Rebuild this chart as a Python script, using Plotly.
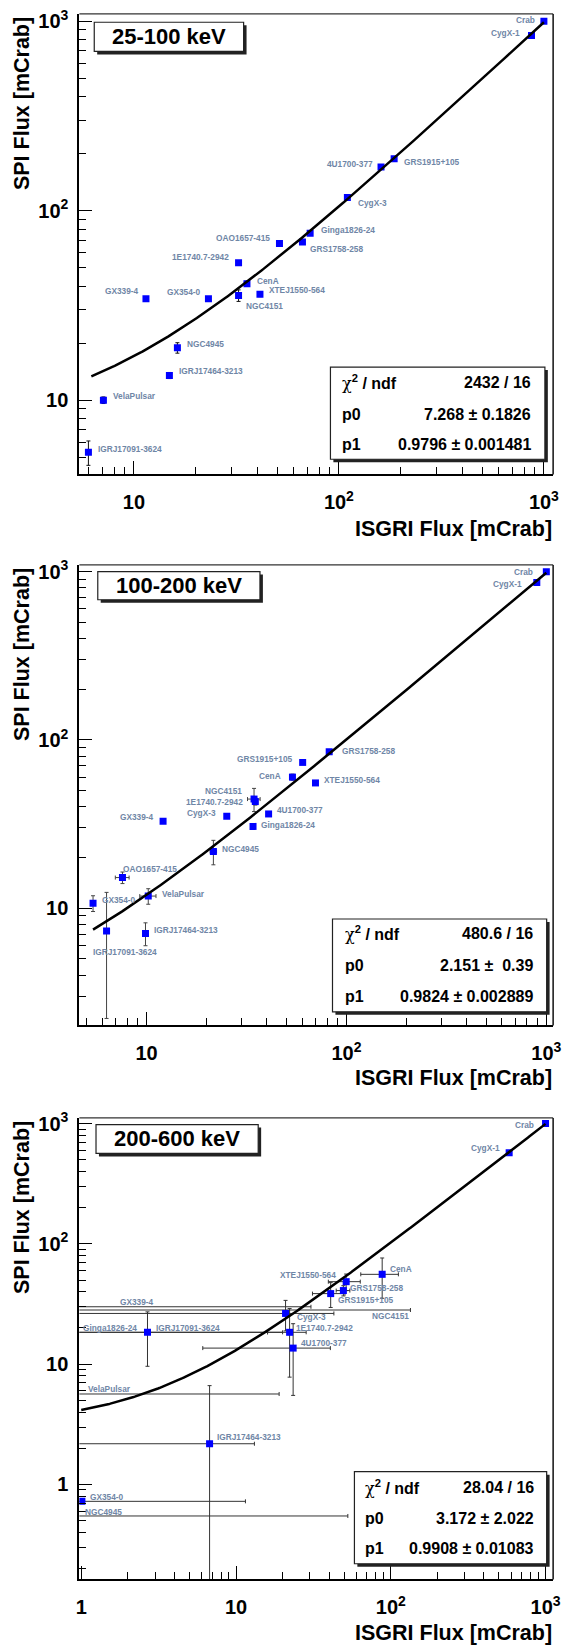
import numpy as np
import plotly.graph_objects as go

W, H = 567, 1648

# ---------------- data: 25-100 keV ----------------
band1 = "25-100 keV"
src1 = ["Crab", "CygX-1", "GRS1915+105", "4U1700-377", "CygX-3", "Ginga1826-24",
        "GRS1758-258", "OAO1657-415", "1E1740.7-2942", "CenA", "GX339-4", "GX354-0",
        "NGC4151", "XTEJ1550-564", "NGC4945", "IGRJ17464-3213", "VelaPulsar", "IGRJ17091-3624"]
isgri1 = [1000, 870, 186, 160.5, 110, 72.4, 66.4, 51.3, 32.4, 35.6, 11.45, 23.1,
          32.4, 41.2, 16.3, 14.9, 7.1, 6.0]
isgri1_err = [2, 3, 1, 1, 0.8, 0.6, 0.6, 0.5, 0.5, 0.5, 0.2, 0.3,
              0.5, 0.5, 0.3, 0.2, 0.1, 0.1]
spi1 = [1000, 841, 188, 170, 117.5, 76, 68.4, 67.2, 53.1, 41.2, 34.3, 34.3,
        35.7, 36.2, 18.9, 13.5, 10.0, 5.31]
spi1_err = [3, 3, 1.5, 1.5, 1.2, 1, 1, 1, 1, 1.2, 0.8, 0.8,
            2.5, 1, 1.2, 0.5, 0.4, 0.78]
chi2_1, ndf_1 = "2432", 16
p0_1, p0err_1 = "7.268", "0.1826"
p1_1, p1err_1 = "0.9796", "0.001481"
fit_range_1 = [6.2, 1000]

# ---------------- data: 100-200 keV ----------------
band2 = "100-200 keV"
src2 = ["Crab", "CygX-1", "GRS1758-258", "GRS1915+105", "CenA", "XTEJ1550-564",
        "NGC4151", "1E1740.7-2942", "4U1700-377", "CygX-3", "GX339-4", "Ginga1826-24",
        "NGC4945", "OAO1657-415", "VelaPulsar", "GX354-0", "IGRJ17464-3213", "IGRJ17091-3624"]
isgri2 = [1000, 896, 82, 60.4, 53.7, 70, 34.5, 35.0, 40.8, 25.2, 12.1, 34.1,
          21.6, 7.58, 10.2, 5.40, 9.88, 6.31]
isgri2_err = [2, 3, 0.8, 0.6, 0.6, 0.6, 2.5, 1.0, 0.5, 0.4, 0.2, 0.4,
              0.8, 0.6, 0.95, 0.1, 0.2, 0.1]
spi2 = [1000, 861, 85, 73.5, 60.1, 55.5, 44.5, 43.0, 36.3, 35.2, 32.9, 30.6,
        21.7, 15.2, 11.8, 10.7, 7.08, 7.31]
spi2_err = [3, 3, 1.5, 1.5, 2.5, 1.2, 7, 2, 1, 1, 0.8, 0.8,
            3.6, 1.2, 1.25, 1.15, 1.1, 5.1]
chi2_2, ndf_2 = "480.6", 16
p0_2, p0err_2 = "2.151", " 0.39"
p1_2, p1err_2 = "0.9824", "0.002889"
fit_range_2 = [5.4, 1000]

# ---------------- data: 200-600 keV ----------------
band3 = "200-600 keV"
src3 = ["Crab", "CygX-1", "CenA", "XTEJ1550-564", "GRS1758-258", "GRS1915+105",
        "NGC4151", "GX339-4", "CygX-3", "Ginga1826-24", "IGRJ17091-3624", "1E1740.7-2942",
        "4U1700-377", "VelaPulsar", "IGRJ17464-3213", "GX354-0", "NGC4945"]
# sources below 1 mCrab in ISGRI fall left of the axis (marker not visible)
isgri3 = [1000, 582, 88, 51.5, 49.4, 40.9, 0.5, 0.5, 20.9, 0.5, 2.68, 22.2,
          23.4, 0.5, 6.75, 1.01, 0.5]
isgri3_err = [3, 4, 24, 12, 5, 9.7, 133.5, 30, 22, 19.5, 13.3, 6.2,
              17.3, 18.5, 6.4, 10.5, 52.3]
spi3 = [1000, 573, 55.8, 48.5, 40.9, 38.6, 28.2, 30.0, 26.4, 18.4, 18.4, 18.4,
        13.6, 5.65, 2.18, 0.724, 0.547]
spi3_err = [3, 4, 20.5, 7.6, 4, 9, 0, 0, 7.5, 0, 8.8, 10.6,
            8.1, 0, 4.45, 0, 0]
chi2_3, ndf_3 = "28.04", 16
p0_3, p0err_3 = "3.172", "2.022"
p1_3, p1err_3 = "0.9908", "0.01083"
fit_range_3 = [1.0, 1000]

# ---------------- layout (pixels) ----------------
LBL_COLOR = "#6f86a6"
FONT = "Liberation Sans, Arial, Helvetica, sans-serif"

# label offsets: (dx, dy, anchor) relative to point, or ("edge", xfrac, dy)
lab1 = {
    "Crab": (-6.5, 0.7, "right"), "CygX-1": (-10, 2.3, "right"),
    "GRS1915+105": (8.3, -3, "left"), "4U1700-377": (-6, 3.3, "right"),
    "CygX-3": (8.3, -5.7, "left"), "Ginga1826-24": (9, 3.3, "left"),
    "GRS1758-258": (6, -6.7, "left"), "OAO1657-415": (-7.6, 5.7, "right"),
    "1E1740.7-2942": (-7.6, 5.7, "right"), "CenA": (7.6, 2.7, "left"),
    "GX339-4": (-5, 8, "right"), "GX354-0": (-5.4, 6.3, "right"),
    "XTEJ1550-564": (7.2, 4, "left"), "NGC4151": (5.4, -10.3, "left"),
    "NGC4945": (7.2, 3.3, "left"), "IGRJ17464-3213": (7.6, 4.3, "left"),
    "VelaPulsar": (7.6, 4.3, "left"), "IGRJ17091-3624": (7.2, 3.3, "left"),
}
lab2 = {
    "Crab": (-11, 0, "right"), "CygX-1": (-12.7, -1.3, "right"),
    "GRS1758-258": (10.5, 1, "left"), "GRS1915+105": (-8, 3.7, "right"),
    "CenA": (-9.8, 1.3, "right"), "XTEJ1550-564": (6.1, 3, "left"),
    "NGC4151": (-10, 7.7, "right"), "1E1740.7-2942": (-10, 0, "right"),
    "4U1700-377": (6.5, 4.3, "left"), "CygX-3": (-8.3, 3.3, "right"),
    "GX339-4": (-7.2, 3.7, "right"), "Ginga1826-24": (5.8, 1.7, "left"),
    "NGC4945": (6.5, 3, "left"), "OAO1657-415": (-1, 9, "left"),
    "VelaPulsar": (11.6, 1.7, "left"), "GX354-0": (7.2, 3.3, "left"),
    "IGRJ17464-3213": (6.5, 3.3, "left"), "IGRJ17091-3624": (-16, -20.7, "left"),
}
lab3 = {
    "Crab": (-10, -1, "right"), "CygX-1": (-7.2, 5, "right"),
    "CenA": (5.8, 5, "left"), "XTEJ1550-564": (-8, 6.3, "right"),
    "GRS1758-258": (4.7, 2.7, "left"), "GRS1915+105": (5.8, -6.7, "left"),
    "NGC4151": ("edge", 0.614, -6), "GX339-4": ("edge", 0.0816, 5),
    "CygX-3": (9.8, -3.7, "left"), "Ginga1826-24": ("edge", 0.004, 4),
    "IGRJ17091-3624": (6.9, 4.7, "left"), "1E1740.7-2942": (4.7, 4.7, "left"),
    "4U1700-377": (6.1, 5, "left"), "VelaPulsar": ("edge", 0.013, 5),
    "IGRJ17464-3213": (5.4, 6.7, "left"), "GX354-0": (5.8, 4, "left"),
    "NGC4945": ("edge", 0.007, 4.3),
}

panels = [
    dict(band=band1, src=src1, x=isgri1, ex=isgri1_err, y=spi1, ey=spi1_err,
         chi2=chi2_1, ndf=ndf_1, p0=p0_1, p0e=p0err_1, p1=p1_1, p1e=p1err_1, fr=fit_range_1,
         labels=lab1, ecolor="#111111",
         frame=(77, 5, 561, 468), xr=[0.734, 3.045], yr=[0.608, 3.038],
         stats=(333.5, 360, 552.6, 452.7), stxt=(343.6, 540.7), rows=(376, 407.3, 438.3),
         ebox=(92.2, 13.3, 244.8, 42.7), xtitle_y=523),
    dict(band=band2, src=src2, x=isgri2, ex=isgri2_err, y=spi2, ey=spi2_err,
         chi2=chi2_2, ndf=ndf_2, p0=p0_2, p0e=p0err_2, p1=p1_2, p1e=p1err_2, fr=fit_range_2,
         labels=lab2, ecolor="#444444",
         frame=(77, 559, 561, 1022), xr=[0.664, 3.034], yr=[0.303, 3.04],
         stats=(335.6, 915, 554.4, 1008.3), stxt=(346.5, 542.5), rows=(930, 961.7, 992.7),
         ebox=(95.8, 565.7, 261.5, 594), xtitle_y=1075),
    dict(band=band3, src=src3, x=isgri3, ex=isgri3_err, y=spi3, ey=spi3_err,
         chi2=chi2_3, ndf=ndf_3, p0=p0_3, p0e=p0err_3, p1=p1_3, p1e=p1err_3, fr=fit_range_3,
         labels=lab3, ecolor="#333333",
         frame=(77, 1115, 561, 1579), xr=[-0.012, 3.049], yr=[-0.789, 3.047],
         stats=(358, 1470.7, 554.4, 1563.3), stxt=(367, 543.6), rows=(1486.7, 1517.7, 1548.3),
         ebox=(94, 1121.7, 259.7, 1150.7), xtitle_y=1633),
]


def PX(px):
    return px / W


def PY(py):
    return 1 - py / H


def log_ticks(rng):
    lo, hi = int(np.floor(rng[0])), int(np.ceil(rng[1]))
    major, text, minor = [], [], []
    for d in range(lo, hi + 1):
        v = 10.0 ** d
        if rng[0] - 1e-9 <= d <= rng[1] + 1e-9:
            major.append(v)
            if d == 0:
                text.append("1")
            elif d == 1:
                text.append("10")
            else:
                text.append("10<sup>%d</sup>" % d)
        for m in range(2, 10):
            mv = m * v
            if rng[0] <= np.log10(mv) <= rng[1]:
                minor.append(mv)
    return major, text, minor


fig = go.Figure()
annotations = []
shapes = []
layout_axes = {}

CHI = "<span style='font-family:DejaVu Serif, serif;font-weight:normal'>χ</span>"

for i, P in enumerate(panels, start=1):
    xa = "x" if i == 1 else "x%d" % i
    ya = "y" if i == 1 else "y%d" % i
    xkey = "xaxis" if i == 1 else "xaxis%d" % i
    ykey = "yaxis" if i == 1 else "yaxis%d" % i
    L, T, R, B = P["frame"]

    # data points with error bars
    fig.add_trace(go.Scatter(
        x=P["x"], y=P["y"], mode="markers", xaxis=xa, yaxis=ya,
        marker=dict(symbol="square", size=7, color="#0000ff", line=dict(width=0)),
        error_x=dict(type="data", array=P["ex"], color=P["ecolor"], thickness=1, width=2),
        error_y=dict(type="data", array=P["ey"], color=P["ecolor"], thickness=1, width=2),
        showlegend=False, hoverinfo="skip", cliponaxis=True,
    ))

    # linear fit  y = p0 + p1 * x
    fx = np.geomspace(P["fr"][0], P["fr"][1], 400)
    fy = float(P["p0"]) + float(P["p1"]) * fx
    fig.add_trace(go.Scatter(
        x=fx, y=fy, mode="lines", xaxis=xa, yaxis=ya,
        line=dict(color="black", width=2.5), showlegend=False, hoverinfo="skip",
    ))

    # axes
    xmaj, xtxt, xmin = log_ticks(P["xr"])
    ymaj, ytxt, ymin = log_ticks(P["yr"])
    common = dict(
        type="log", showgrid=False, zeroline=False, showline=True, linecolor="black",
        linewidth=2, mirror=False, ticks="inside", ticklen=13, tickwidth=1.2,
        tickcolor="black",
        tickfont=dict(family=FONT, size=20, color="black", weight="bold"),
    )
    layout_axes[xkey] = dict(
        common, domain=[PX(L), PX(R)], range=P["xr"], anchor=ya,
        tickmode="array", tickvals=xmaj, ticktext=xtxt, ticklabelstandoff=9,
        minor=dict(tickmode="array", tickvals=xmin, ticks="inside", ticklen=7,
                   tickwidth=1, tickcolor="black", showgrid=False),
    )
    layout_axes[ykey] = dict(
        common, domain=[PY(B), PY(T)], range=P["yr"], anchor=xa,
        tickmode="array", tickvals=ymaj, ticktext=ytxt, ticklabelstandoff=5,
        minor=dict(tickmode="array", tickvals=ymin, ticks="inside", ticklen=7,
                   tickwidth=1, tickcolor="black", showgrid=False),
    )

    # thin frame on top / right
    shapes.append(dict(type="line", xref=xa + " domain", yref=ya + " domain",
                       x0=0, x1=1, y0=1, y1=1, line=dict(color="#333333", width=1.2),
                       layer="above"))
    shapes.append(dict(type="line", xref=xa + " domain", yref=ya + " domain",
                       x0=1, x1=1, y0=0, y1=1, line=dict(color="#111111", width=1.5),
                       layer="above"))

    # source labels
    for name, xv, yv in zip(P["src"], P["x"], P["y"]):
        spec = P["labels"][name]
        if spec[0] == "edge":
            annotations.append(dict(
                text=name, xref=xa + " domain", yref=ya, x=spec[1], y=np.log10(yv),
                yshift=spec[2], xanchor="left", yanchor="middle", showarrow=False,
                font=dict(family=FONT, size=8.3, color=LBL_COLOR, weight="bold"),
            ))
        else:
            dx, dy, anc = spec
            annotations.append(dict(
                text=name, xref=xa, yref=ya, x=np.log10(xv), y=np.log10(yv),
                xshift=dx, yshift=dy, xanchor=anc, yanchor="middle", showarrow=False,
                font=dict(family=FONT, size=8.3, color=LBL_COLOR, weight="bold"),
            ))

    # energy-band box with shadow
    x0, y0, x1, y1 = P["ebox"]
    shapes.append(dict(type="rect", xref="paper", yref="paper", layer="above",
                       x0=PX(x0 + 3), x1=PX(x1 + 3), y0=PY(y1 + 3), y1=PY(y0 + 3),
                       fillcolor="#222222", line=dict(width=0)))
    shapes.append(dict(type="rect", xref="paper", yref="paper", layer="above",
                       x0=PX(x0), x1=PX(x1), y0=PY(y1), y1=PY(y0),
                       fillcolor="white", line=dict(color="#222222", width=1.2)))
    annotations.append(dict(
        text=P["band"], xref="paper", yref="paper", x=PX((x0 + x1) / 2),
        y=PY((y0 + y1) / 2), xanchor="center", yanchor="middle", showarrow=False,
        font=dict(family=FONT, size=22, color="black", weight="bold"),
    ))

    # stats box with shadow
    s0, t0, s1, t1 = P["stats"]
    shapes.append(dict(type="rect", xref="paper", yref="paper", layer="above",
                       x0=PX(s0 + 3), x1=PX(s1 + 3), y0=PY(t1 + 3), y1=PY(t0 + 3),
                       fillcolor="#222222", line=dict(width=0)))
    shapes.append(dict(type="rect", xref="paper", yref="paper", layer="above",
                       x0=PX(s0), x1=PX(s1), y0=PY(t1), y1=PY(t0),
                       fillcolor="white", line=dict(color="#222222", width=1.2)))
    tl, tr = P["stxt"]
    rows = [
        (CHI + "<sup>2</sup> / ndf", "%s / %d" % (P["chi2"], P["ndf"])),
        ("p0", "%s ± %s" % (P["p0"], P["p0e"].replace(" ", "&nbsp;"))),
        ("p1", "%s ± %s" % (P["p1"], P["p1e"])),
    ]
    for (lt, vt), ry in zip(rows, P["rows"]):
        annotations.append(dict(
            text=lt, xref="paper", yref="paper", x=PX(tl), y=PY(ry), xanchor="left",
            yanchor="middle", showarrow=False,
            font=dict(family=FONT, size=16, color="black", weight="bold"),
        ))
        annotations.append(dict(
            text=vt, xref="paper", yref="paper", x=PX(tr), y=PY(ry), xanchor="right",
            yanchor="middle", showarrow=False,
            font=dict(family=FONT, size=16, color="black", weight="bold"),
        ))

    # axis titles
    annotations.append(dict(
        text="ISGRI Flux [mCrab]", xref="paper", yref="paper", x=PX(R + 1),
        y=PY(P["xtitle_y"]), xanchor="right", yanchor="middle", showarrow=False,
        font=dict(family=FONT, size=21.5, color="black", weight="bold"),
    ))
    annotations.append(dict(
        text="SPI Flux [mCrab]", xref="paper", yref="paper", x=PX(19),
        y=PY(T + 1), xanchor="center", yanchor="top", textangle=-90, showarrow=False,
        font=dict(family=FONT, size=21.5, color="black", weight="bold"),
    ))

fig.update_layout(
    width=W, height=H, margin=dict(l=0, r=0, t=0, b=0),
    paper_bgcolor="white", plot_bgcolor="white",
    annotations=annotations, shapes=shapes, showlegend=False,
    **layout_axes,
)

fig.write_html("out.html")
